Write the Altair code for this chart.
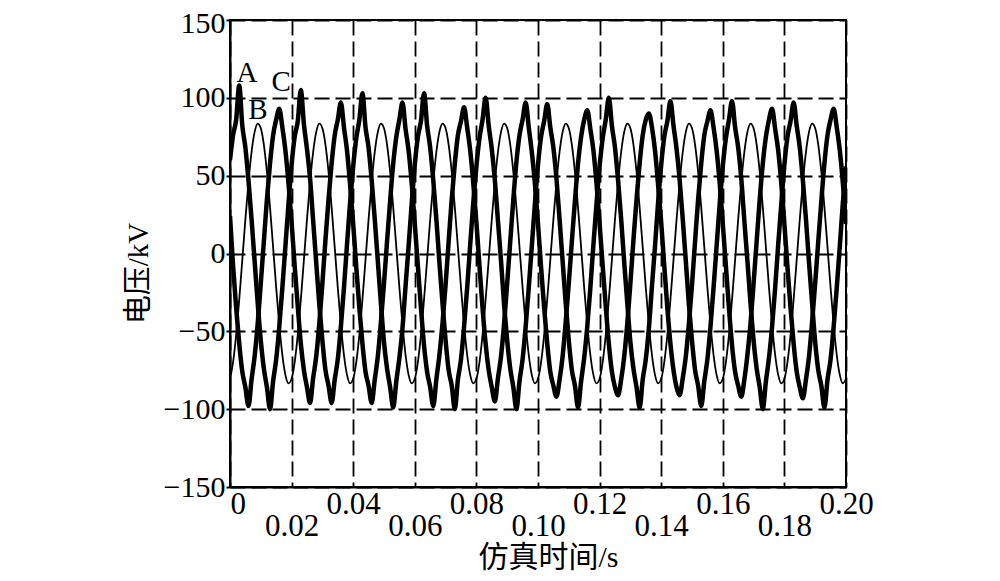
import altair as alt
import pandas as pd

# sampling grid, 1 ms
time_s = [i / 1000 for i in range(201)]

# phase A (thick), one row per 20 ms cycle
phase_a = [
    60, 76, 86, 108, 82, 68, 47, 22, -5, -32, -56, -74, -86, -100, -82, -68, -47, -22, 5, 32,
    57, 75, 85, 105, 83, 67, 48, 21, -6, -33, -56, -75, -85, -96, -81, -68, -47, -22, 6, 33,
    56, 74, 86, 103, 81, 68, 47, 22, -5, -32, -57, -74, -86, -99, -82, -67, -48, -21, 5, 32,
    57, 75, 85, 103, 82, 68, 47, 22, -6, -32, -56, -75, -85, -100, -81, -68, -47, -22, 6, 33,
    56, 74, 86, 100, 82, 67, 47, 21, -5, -33, -56, -74, -86, -100, -82, -68, -47, -22, 5, 32,
    57, 75, 85, 96, 81, 68, 48, 22, -5, -32, -56, -75, -85, -99, -82, -67, -47, -22, 6, 32,
    56, 74, 86, 100, 82, 68, 47, 22, -6, -32, -57, -74, -86, -99, -81, -68, -48, -21, 5, 33,
    57, 75, 85, 98, 82, 67, 47, 22, -5, -33, -56, -75, -85, -98, -82, -68, -47, -22, 5, 32,
    56, 74, 86, 98, 81, 68, 48, 21, -5, -32, -56, -74, -86, -100, -82, -67, -47, -22, 6, 32,
    57, 75, 85, 97, 82, 68, 47, 22, -6, -32, -57, -75, -85, -99, -81, -68, -47, -22, 5, 33,
    56,
]

# phase B (thin)
phase_b = [
    -80.5, -69.8, -52.2, -29.5, -3.9, 22.0, 45.8, 65.2, 78.1, 83.4, 80.5, 69.8, 52.2, 29.5, 3.9, -22.0, -45.8, -65.2, -78.1, -83.4,
    -80.5, -69.8, -52.2, -29.5, -3.9, 22.0, 45.8, 65.2, 78.1, 83.4, 80.5, 69.8, 52.2, 29.5, 3.9, -22.0, -45.8, -65.2, -78.1, -83.4,
    -80.5, -69.8, -52.2, -29.5, -3.9, 22.0, 45.8, 65.2, 78.1, 83.4, 80.5, 69.8, 52.2, 29.5, 3.9, -22.0, -45.8, -65.2, -78.1, -83.4,
    -80.5, -69.8, -52.2, -29.5, -3.9, 22.0, 45.8, 65.2, 78.1, 83.4, 80.5, 69.8, 52.2, 29.5, 3.9, -22.0, -45.8, -65.2, -78.1, -83.4,
    -80.5, -69.8, -52.2, -29.5, -3.9, 22.0, 45.8, 65.2, 78.1, 83.4, 80.5, 69.8, 52.2, 29.5, 3.9, -22.0, -45.8, -65.2, -78.1, -83.4,
    -80.5, -69.8, -52.2, -29.5, -3.9, 22.0, 45.8, 65.2, 78.1, 83.4, 80.5, 69.8, 52.2, 29.5, 3.9, -22.0, -45.8, -65.2, -78.1, -83.4,
    -80.5, -69.8, -52.2, -29.5, -3.9, 22.0, 45.8, 65.2, 78.1, 83.4, 80.5, 69.8, 52.2, 29.5, 3.9, -22.0, -45.8, -65.2, -78.1, -83.4,
    -80.5, -69.8, -52.2, -29.5, -3.9, 22.0, 45.8, 65.2, 78.1, 83.4, 80.5, 69.8, 52.2, 29.5, 3.9, -22.0, -45.8, -65.2, -78.1, -83.4,
    -80.5, -69.8, -52.2, -29.5, -3.9, 22.0, 45.8, 65.2, 78.1, 83.4, 80.5, 69.8, 52.2, 29.5, 3.9, -22.0, -45.8, -65.2, -78.1, -83.4,
    -80.5, -69.8, -52.2, -29.5, -3.9, 22.0, 45.8, 65.2, 78.1, 83.4, 80.5, 69.8, 52.2, 29.5, 3.9, -22.0, -45.8, -65.2, -78.1, -83.4,
    -80.5,
]

# phase C (thick)
phase_c = [
    24, -8, -35, -58, -76, -86, -98, -81, -66, -45, -19, 8, 35, 58, 76, 86, 93, 81, 66, 45,
    20, -8, -34, -58, -75, -86, -96, -80, -66, -45, -19, 9, 35, 58, 76, 86, 97, 81, 66, 44,
    19, -9, -35, -58, -76, -85, -96, -81, -66, -44, -19, 8, 34, 58, 75, 86, 97, 80, 66, 45,
    19, -8, -35, -59, -76, -86, -98, -81, -65, -45, -20, 8, 35, 58, 76, 85, 94, 81, 66, 45,
    20, -8, -35, -58, -75, -86, -95, -80, -66, -45, -19, 8, 35, 59, 76, 86, 97, 81, 65, 45,
    19, -9, -35, -58, -76, -85, -92, -81, -66, -44, -19, 8, 34, 58, 75, 86, 92, 80, 66, 45,
    19, -8, -34, -58, -76, -86, -91, -81, -66, -45, -19, 9, 35, 58, 76, 86, 90, 81, 66, 44,
    20, -8, -35, -58, -75, -86, -91, -80, -66, -45, -20, 8, 35, 58, 76, 85, 92, 81, 66, 45,
    19, -8, -35, -59, -76, -85, -92, -81, -65, -45, -19, 8, 35, 58, 75, 86, 93, 80, 66, 45,
    19, -9, -35, -58, -76, -86, -93, -81, -66, -44, -19, 8, 34, 58, 76, 86, 93, 81, 66, 45,
    19,
]

x_ticks = [0, 0.02, 0.04, 0.06, 0.08, 0.10, 0.12, 0.14, 0.16, 0.18, 0.20]
y_ticks = [-150, -100, -50, 0, 50, 100, 150]

label_text = ["A", "B", "C"]
label_t = [0.0055, 0.0091, 0.0166]
label_v = [116, 92, 110]

df = pd.DataFrame({"t": time_s, "A": phase_a, "B": phase_b, "C": phase_c})
long = df.melt("t", var_name="phase", value_name="v")
labels = pd.DataFrame({"t": label_t, "v": label_v, "txt": label_text})

serif = "Liberation Serif"
cjk = "Liberation Serif, Noto Sans CJK SC"

x_axis = alt.Axis(
    values=x_ticks,
    labelExpr="datum.value == 0 ? '0' : format(datum.value, '.2f')",
    labelFont=serif, labelFontSize=31, labelColor="black",
    labelPadding={"condition": {"test": "round(datum.value * 100) % 4 == 2", "value": 24}, "value": 2},
    labelAlign={"condition": {"test": "datum.value == 0", "value": "left"}, "value": "center"},
    labelBaseline="top", labelOverlap=False, labelFlush=False,
    ticks=False, tickSize=0,
    grid=True, gridColor="black", gridDash=[15, 6], gridWidth=1.8, gridOpacity=1,
    domainColor="black", domainWidth=2,
    title="仿真时间/s", titleFont=cjk, titleFontSize=30, titleFontWeight="normal",
    titleColor="black", titleX=318, titleY=55, titleBaseline="top", titleAlign="center",
)

y_axis = alt.Axis(
    values=y_ticks,
    labelFont=serif, labelFontSize=30, labelColor="black", labelPadding=1, labelFlush=False,
    labelOffset={"condition": {"test": "datum.value == 150", "value": 3}, "value": 0},
    tickSize=4, tickColor="black", tickWidth=2,
    grid=True, gridColor="black", gridDash=[15, 6], gridWidth=1.8, gridOpacity=1,
    domainColor="black", domainWidth=2,
    title="电压/kV", titleFont=cjk, titleFontSize=29, titleFontWeight="normal",
    titleColor="black", titleX=-77, titleY=253, titleAngle=270, titleAlign="center",
    titleBaseline="bottom",
)

xenc = alt.X("t:Q", scale=alt.Scale(domain=[0, 0.2], nice=False, zero=False), axis=x_axis)
yenc = alt.Y("v:Q", scale=alt.Scale(domain=[-150, 150], nice=False), axis=y_axis)


def wave(name, width):
    return alt.Chart(long[long.phase == name]).mark_line(
        color="black", strokeWidth=width, interpolate="monotone", clip=True
    ).encode(x=xenc, y=yenc)


text = alt.Chart(labels).mark_text(font=serif, fontSize=29, color="black").encode(
    x=xenc, y=yenc, text="txt:N"
)

chart = alt.layer(
    wave("B", 1.8), wave("A", 4.5), wave("C", 4.5), text
).properties(
    width=616, height=467,
    padding={"left": 222, "top": 12, "right": 146, "bottom": 86},
    autosize=alt.AutoSizeParams(type="none"),
    background="white",
).configure_view(stroke="black", strokeWidth=2)

chart.save("out.html", embed_options={"renderer": "svg", "actions": False})
